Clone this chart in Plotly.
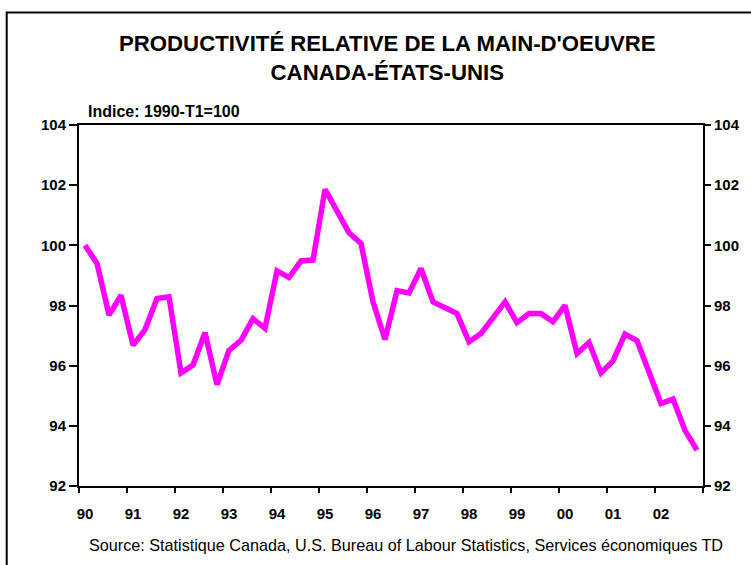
import plotly.graph_objects as go

years = ["90", "91", "92", "93", "94", "95", "96", "97", "98", "99", "00", "01", "02"]
quarters = list(range(52))
productivity = [
    100.0, 99.4, 97.68, 98.34, 96.68, 97.2, 98.23, 98.29,
    95.76, 96.02, 97.1, 95.37, 96.51, 96.84, 97.56, 97.24,
    99.15, 98.93, 99.48, 99.51, 101.86, 101.13, 100.42, 100.06,
    98.12, 96.87, 98.49, 98.42, 99.23, 98.12, 97.93, 97.73,
    96.79, 97.07, 97.59, 98.12, 97.43, 97.73, 97.73, 97.46,
    98.0, 96.4, 96.77, 95.76, 96.16, 97.05, 96.83, 95.82,
    94.74, 94.89, 93.85, 93.19,
]
y_ticks = [92, 94, 96, 98, 100, 102, 104]

FONT = "Liberation Sans, Arial, sans-serif"

PL, PR, PT, PB = 79, 703, 125, 485.7  # plot area in screen px


def px(sx):
    return (sx - PL) / (PR - PL)


def py(sy):
    return (PB - sy) / (PB - PT)


fig = go.Figure()
fig.add_trace(go.Scatter(
    x=quarters, y=productivity, mode="lines",
    line=dict(color="#FF00FF", width=5.5),
    hoverinfo="skip", showlegend=False,
))
fig.add_trace(go.Scatter(x=[quarters[0]], y=[productivity[0]], yaxis="y2",
                         mode="markers", marker=dict(opacity=0), showlegend=False, hoverinfo="skip"))
fig.add_trace(go.Scatter(x=[0], y=[100], xaxis="x2", mode="markers",
                         marker=dict(opacity=0), showlegend=False, hoverinfo="skip"))

tick_font = dict(family=FONT, size=15, color="black", weight="bold")

fig.update_layout(
    width=751, height=565,
    margin=dict(l=PL, r=751 - PR, t=PT, b=565 - PB),
    paper_bgcolor="white", plot_bgcolor="white",
    xaxis=dict(
        range=[-0.5, 51.5], tickmode="array",
        tickvals=[4 * i for i in range(len(years))], ticktext=years,
        ticks="", showgrid=False, zeroline=False,
        showline=True, linecolor="black", linewidth=2, mirror=True,
        tickfont=tick_font, ticklabelstandoff=13,
    ),
    xaxis2=dict(
        range=[-0.5, 51.5], overlaying="x", anchor="y", side="bottom",
        tickmode="array", tickvals=[-0.5 + 4 * i for i in range(14)],
        showticklabels=False, ticks="outside", ticklen=6, tickwidth=2, tickcolor="black",
        showgrid=False, zeroline=False, showline=False,
    ),
    yaxis=dict(
        range=[92, 104], tickmode="array", tickvals=y_ticks,
        ticks="outside", ticklen=8, tickwidth=1.5, tickcolor="black",
        showgrid=False, zeroline=False,
        showline=True, linecolor="black", linewidth=2,
        tickfont=tick_font,
    ),
    yaxis2=dict(
        range=[92, 104], tickmode="array", tickvals=y_ticks, overlaying="y",
        side="right", anchor="x",
        ticks="outside", ticklen=6, tickwidth=1.5, tickcolor="black",
        showgrid=False, zeroline=False,
        showline=True, linecolor="black", linewidth=2,
        tickfont=tick_font,
    ),
)

# frame around the whole chart (extends beyond image on right/bottom)
fig.add_shape(type="rect", xref="paper", yref="paper",
              x0=px(6.7), y0=py(600), x1=px(780), y1=py(12.7),
              line=dict(color="black", width=2), fillcolor="rgba(0,0,0,0)", layer="above")

fig.add_annotation(
    text="PRODUCTIVITÉ RELATIVE DE LA MAIN-D'OEUVRE<br>CANADA-ÉTATS-UNIS",
    xref="paper", yref="paper", x=px(387), y=py(58),
    xanchor="center", yanchor="middle", showarrow=False,
    font=dict(family=FONT, size=22.2, color="black", weight="bold"),
)
fig.add_annotation(
    text="Indice: 1990-T1=100",
    xref="paper", yref="paper", x=px(86), y=py(112),
    xanchor="left", yanchor="middle", showarrow=False,
    font=dict(family=FONT, size=16, color="black", weight="bold"),
)
fig.add_annotation(
    text="Source: Statistique Canada, U.S. Bureau of Labour Statistics, Services économiques TD",
    xref="paper", yref="paper", x=px(405.5), y=py(545),
    xanchor="center", yanchor="middle", showarrow=False,
    font=dict(family=FONT, size=16.2, color="black"),
)

fig.write_html("out.html", config={"displayModeBar": False},
               post_script="document.body.style.margin='0';")
